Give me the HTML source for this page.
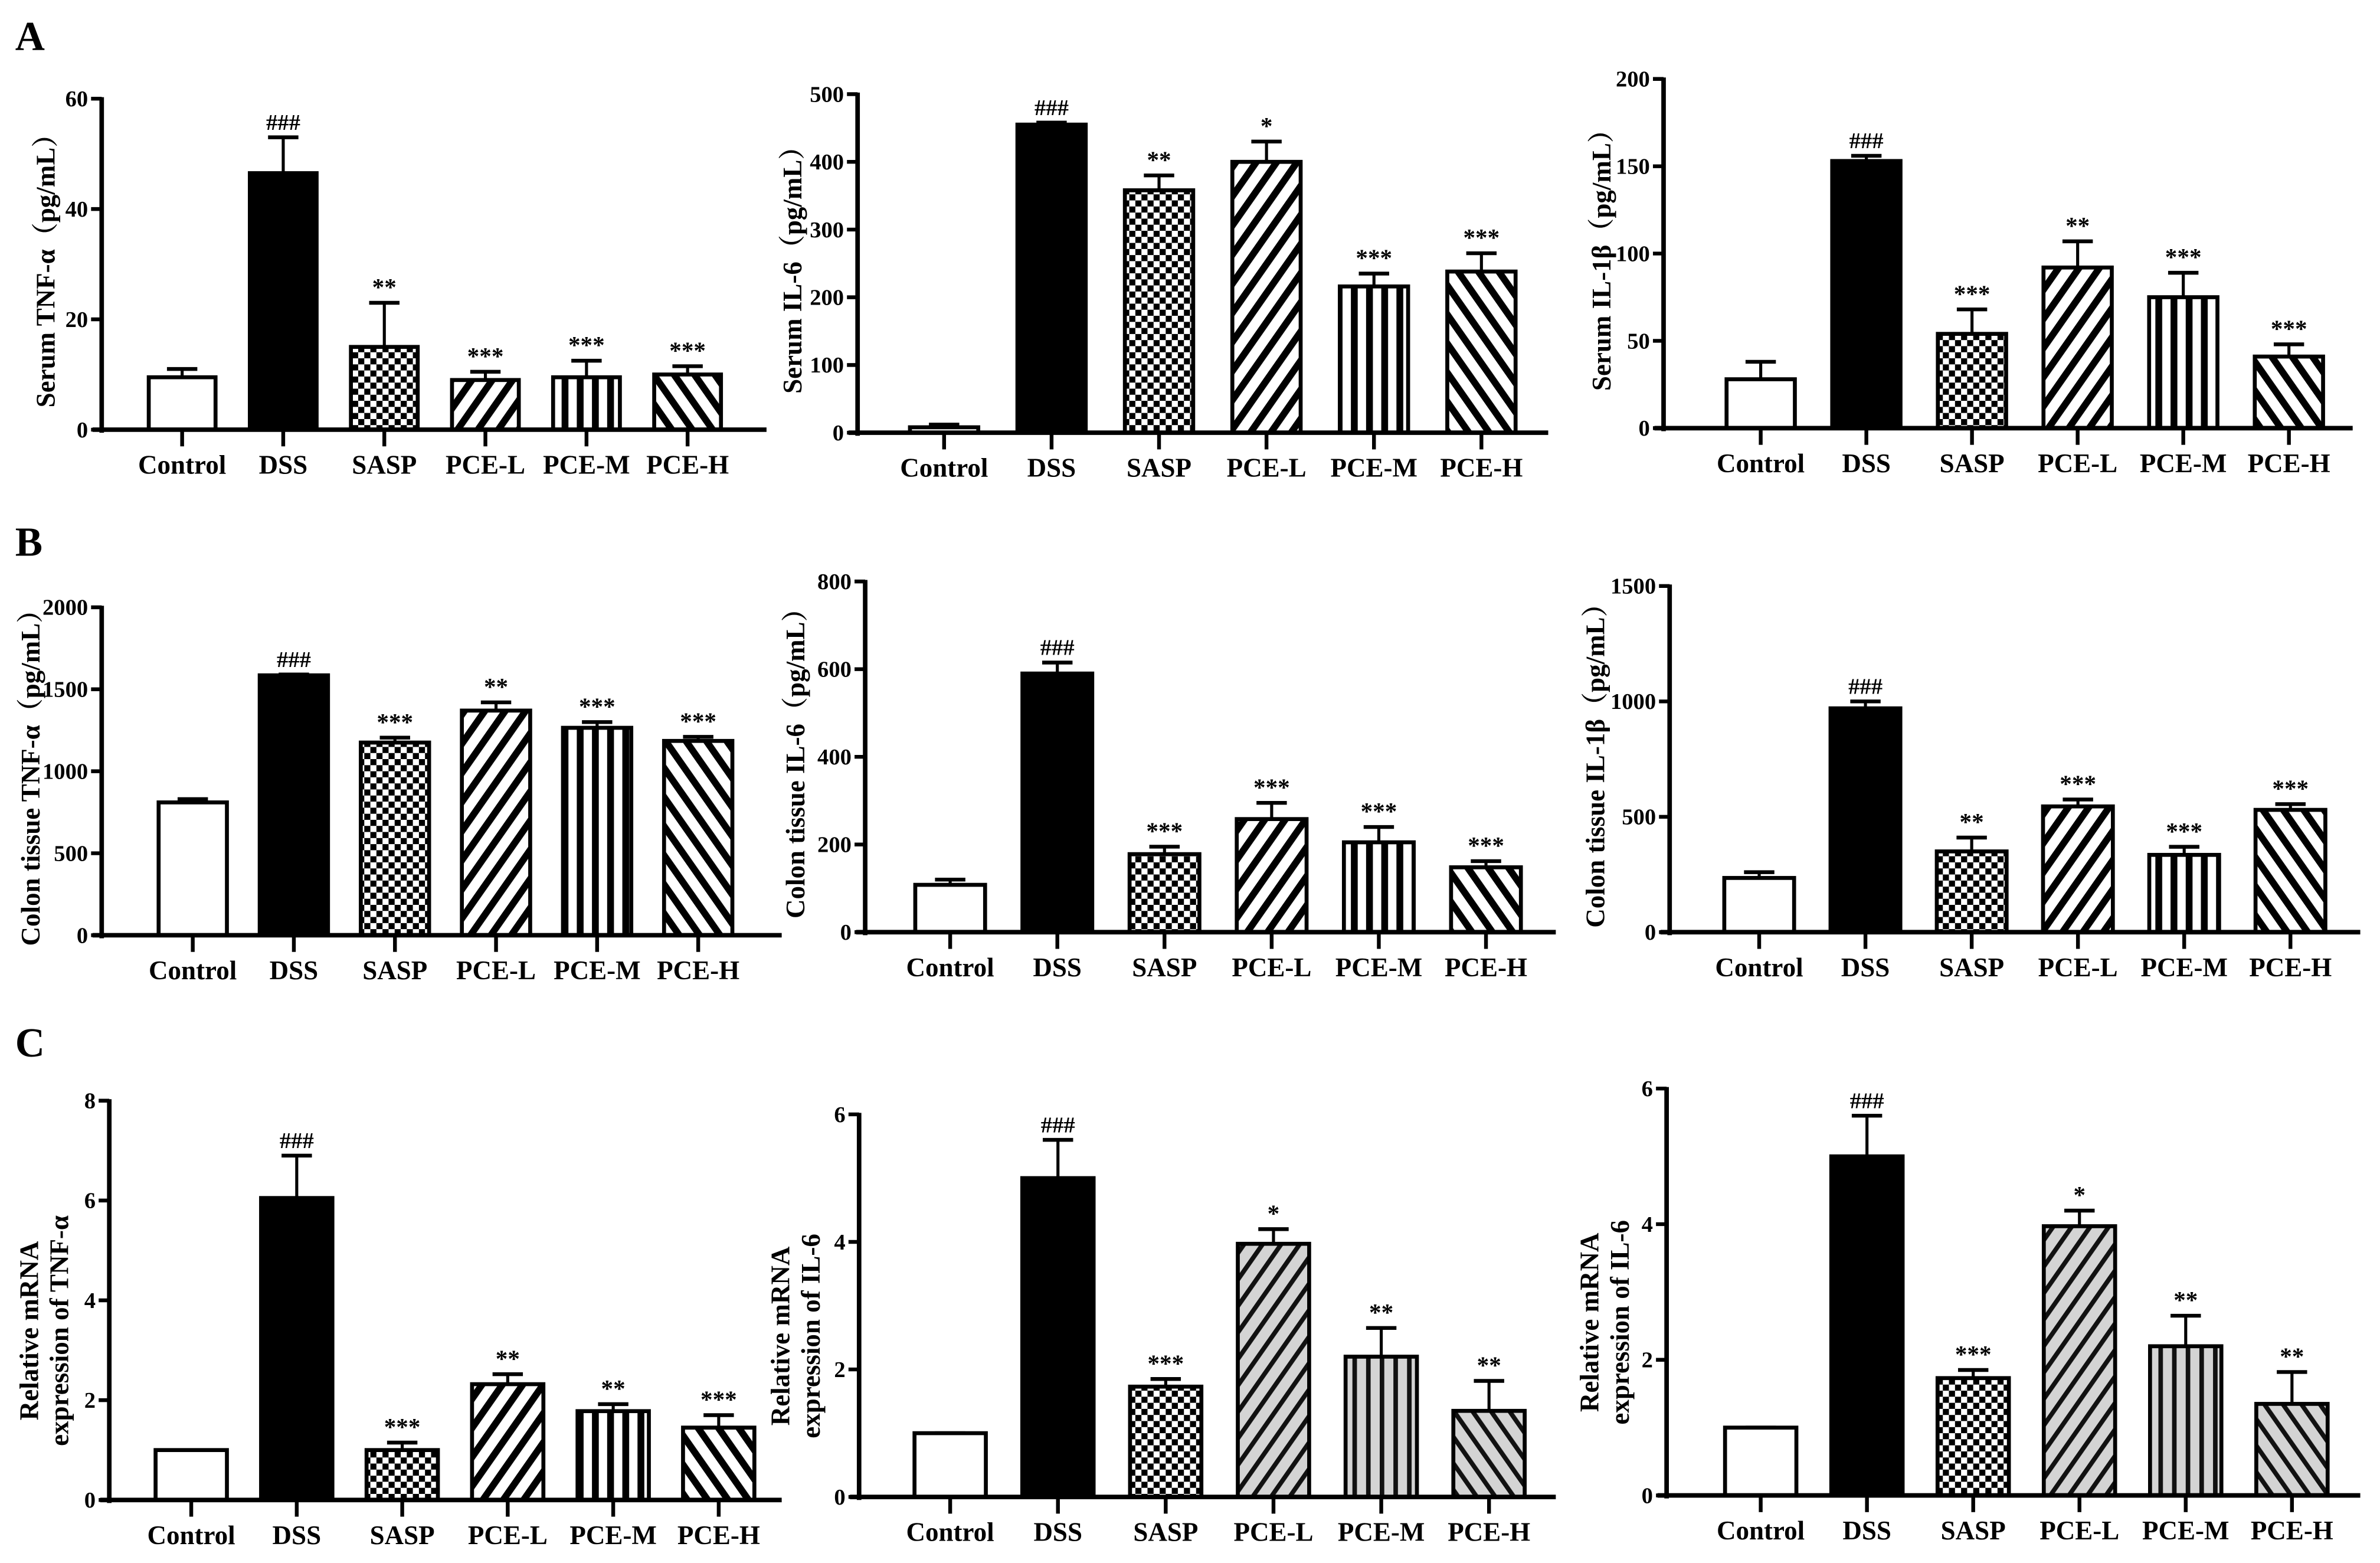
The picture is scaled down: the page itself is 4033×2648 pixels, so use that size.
<!DOCTYPE html>
<html><head><meta charset="utf-8"><style>
html,body{margin:0;padding:0;background:#fff;}
svg{display:block;}
text{font-family:"Liberation Serif","Noto Serif CJK SC",serif;font-weight:bold;fill:#000;}
</style></head><body>
<svg id="fig" width="4033" height="2648" viewBox="0 0 1568 1029.5" xmlns="http://www.w3.org/2000/svg">
<defs>
<pattern id="chk" width="8" height="8" patternUnits="userSpaceOnUse"><rect width="8" height="8" fill="#fff"/><rect width="4" height="4" fill="#000"/><rect x="4" y="4" width="4" height="4" fill="#000"/></pattern>
<pattern id="fw" width="11" height="11" patternUnits="userSpaceOnUse" patternTransform="rotate(35)"><rect width="11" height="11" fill="#fff"/><rect width="4.5" height="11" fill="#000"/></pattern>
<pattern id="bw" width="11" height="11" patternUnits="userSpaceOnUse" patternTransform="rotate(-35)"><rect width="11" height="11" fill="#fff"/><rect width="4.5" height="11" fill="#000"/></pattern>
<pattern id="vw" width="10" height="10" patternUnits="userSpaceOnUse"><rect width="10" height="10" fill="#fff"/><rect width="4.5" height="10" fill="#000"/></pattern>
<pattern id="fg" width="10" height="10" patternUnits="userSpaceOnUse" patternTransform="rotate(35)"><rect width="10" height="10" fill="#d4d4d4"/><rect width="3" height="10" fill="#111"/></pattern>
<pattern id="bg" width="10" height="10" patternUnits="userSpaceOnUse" patternTransform="rotate(-35)"><rect width="10" height="10" fill="#d4d4d4"/><rect width="3" height="10" fill="#111"/></pattern>
<pattern id="vg" width="9" height="9" patternUnits="userSpaceOnUse"><rect width="9" height="9" fill="#d4d4d4"/><rect width="3" height="9" fill="#111"/></pattern>
</defs>
<text x="10" y="33" font-size="27">A</text>
<text x="10" y="366" font-size="27">B</text>
<text x="10" y="696" font-size="27">C</text>
</svg>
<script>
const categories = ["Control","DSS","SASP","PCE-L","PCE-M","PCE-H"];
const a1Values = [9.5,46.5,15,9,9.5,10];
const a1Errors = [11,53,23,10.5,12.5,11.5];
const a1Sig = ["","###","**","***","***","***"];
const a1Ticks = [0,20,40,60];
const a2Values = [8,455,358,400,216,238];
const a2Errors = [12,458,380,430,235,265];
const a2Sig = ["","###","**","*","***","***"];
const a2Ticks = [0,100,200,300,400,500];
const a3Values = [28,153,54,92,75,41];
const a3Errors = [38,156,68,107,89,48];
const a3Sig = ["","###","***","**","***","***"];
const a3Ticks = [0,50,100,150,200];
const b1Values = [810,1585,1175,1370,1265,1185];
const b1Errors = [830,1590,1205,1420,1300,1210];
const b1Sig = ["","###","***","**","***","***"];
const b1Ticks = [0,500,1000,1500,2000];
const b2Values = [108,590,178,258,205,148];
const b2Errors = [120,615,195,295,240,162];
const b2Sig = ["","###","***","***","***","***"];
const b2Ticks = [0,200,400,600,800];
const b3Values = [235,970,350,545,335,530];
const b3Errors = [260,1000,410,575,370,555];
const b3Sig = ["","###","**","***","***","***"];
const b3Ticks = [0,500,1000,1500];
const c1Values = [1.0,6.05,1.0,2.32,1.78,1.45];
const c1Errors = [1.0,6.9,1.15,2.52,1.92,1.7];
const c1Sig = ["","###","***","**","**","***"];
const c1Ticks = [0,2,4,6,8];
const c2Values = [1.0,5.0,1.73,3.97,2.2,1.35];
const c2Errors = [1.0,5.6,1.85,4.2,2.65,1.82];
const c2Sig = ["","###","***","*","**","**"];
const c2Ticks = [0,2,4,6];
const c3Values = [1.0,5.0,1.73,3.97,2.2,1.35];
const c3Errors = [1.0,5.6,1.85,4.2,2.65,1.82];
const c3Sig = ["","###","***","*","**","**"];
const c3Ticks = [0,2,4,6];

const NS="http://www.w3.org/2000/svg";
const svg=document.getElementById('fig');
function mk(tag,attrs,parent){const e=document.createElementNS(NS,tag);for(const k in attrs)e.setAttribute(k,attrs[k]);(parent||svg).appendChild(e);return e;}

function panel(cfg){
  const g=mk('g',{});
  
  
  const ymax=cfg.ticks[cfg.ticks.length-1];
  const yS=v=>cfg.y0-(cfg.y0-cfg.yTop)*v/ymax;
  const xS=i=>cfg.x0+i*cfg.step;
  const fills=cfg.gray?["#fff","#000","url(#chk)","url(#fg)","url(#vg)","url(#bg)"]:["#fff","#000","url(#chk)","url(#fw)","url(#vw)","url(#bw)"];
  categories.forEach((c,i)=>{
    const v=cfg.values[i],e=cfg.errors[i],cx=xS(i),w=cfg.bw;
    const el=mk('line',{x1:cx,x2:cx,y1:yS(v),y2:yS(e),stroke:'#000','stroke-width':2},g);
    
    
    const cap=mk('line',{x1:cx-10,x2:cx+10,y1:yS(e),y2:yS(e),stroke:'#000','stroke-width':2.5},g);
    
    
    const r=mk('rect',{x:cx-w/2,y:yS(v),width:w,height:cfg.y0-yS(v),fill:fills[i],stroke:'#000','stroke-width':2.6},g);
    
    
    if(cfg.sig[i]){
      const t=mk('text',{x:cx,y:yS(e)-5,'font-size':cfg.sig[i][0]=='#'?15:16,'text-anchor':'middle','font-weight':'normal'},g);
      t.textContent=cfg.sig[i];
      
      
    }
    const tk=mk('line',{x1:cx,x2:cx,y1:cfg.y0,y2:cfg.y0+11,stroke:'#000','stroke-width':2.5},g);
    
    
    const lb=mk('text',{x:cx,y:cfg.y0+29,'font-size':17.5,'text-anchor':'middle'},g);
    lb.textContent=c;
    
    
  });
  const ya=mk('line',{x1:cfg.ax,x2:cfg.ax,y1:cfg.yTop-1,y2:cfg.y0+2,stroke:'#000','stroke-width':3},g);
  
  
  const xa=mk('line',{x1:cfg.ax-6,x2:cfg.xEnd,y1:cfg.y0,y2:cfg.y0,stroke:'#000','stroke-width':3},g);
  
  
  cfg.ticks.forEach(t=>{
    const l=mk('line',{x1:cfg.ax-7,x2:cfg.ax,y1:yS(t),y2:yS(t),stroke:'#000','stroke-width':2.5},g);
    
    
    const tx=mk('text',{x:cfg.ax-9,y:yS(t)+5,'font-size':15,'text-anchor':'end','font-family':cfg.sans?'"Liberation Sans",sans-serif':'"Liberation Serif",serif'},g);
    tx.textContent=t;
    
    
  });
  const mid=(cfg.y0+cfg.yTop)/2;
  cfg.title.forEach((s,k)=>{
    const tx=cfg.titleX+k*20;
    const ty=mid+(cfg.titleDy||0);
    const tt=mk('text',{x:tx,y:ty,'font-size':17.5,'text-anchor':'middle',transform:`rotate(-90 ${tx} ${ty})`},g);
    tt.textContent=s;
    
    
  });
}
panel({name:'chart-serum-tnf',ax:67,xEnd:505,y0:283,yTop:65,x0:120,step:66.6,bw:44,values:a1Values,errors:a1Errors,sig:a1Sig,ticks:a1Ticks,title:['Serum TNF-α（pg/mL）'],titleX:36});
panel({name:'chart-serum-il6',ax:565,xEnd:1020,y0:285,yTop:62,x0:622,step:70.8,bw:45,values:a2Values,errors:a2Errors,sig:a2Sig,ticks:a2Ticks,title:['Serum IL-6（pg/mL）'],titleX:528});
panel({name:'chart-serum-il1b',ax:1096,xEnd:1550,y0:282,yTop:52,x0:1160,step:69.6,bw:45,values:a3Values,errors:a3Errors,sig:a3Sig,ticks:a3Ticks,title:['Serum IL-1β（pg/mL）'],titleX:1061});
panel({name:'chart-colon-tnf',ax:67,xEnd:515,y0:616,yTop:400,x0:127,step:66.6,bw:45,values:b1Values,errors:b1Errors,sig:b1Sig,ticks:b1Ticks,title:['Colon tissue TNF-α（pg/mL）'],titleX:26});
panel({name:'chart-colon-il6',ax:570,xEnd:1025,y0:614,yTop:383,x0:626,step:70.6,bw:46,values:b2Values,errors:b2Errors,sig:b2Sig,ticks:b2Ticks,title:['Colon tissue IL-6（pg/mL）'],titleX:530});
panel({name:'chart-colon-il1b',ax:1100,xEnd:1555,y0:614,yTop:386,x0:1159,step:70,bw:46,values:b3Values,errors:b3Errors,sig:b3Sig,ticks:b3Ticks,title:['Colon tissue IL-1β（pg/mL）'],titleX:1057});
panel({name:'chart-mrna-tnf',ax:72,xEnd:515,y0:988,yTop:725,x0:126,step:69.5,bw:47,values:c1Values,errors:c1Errors,sig:c1Sig,ticks:c1Ticks,title:['Relative mRNA','expression of TNF-α'],titleX:25,titleDy:20,sans:true});
panel({name:'chart-mrna-il6',ax:566,xEnd:1025,y0:986,yTop:734,x0:626,step:71,bw:47,values:c2Values,errors:c2Errors,sig:c2Sig,ticks:c2Ticks,title:['Relative mRNA','expression of IL-6'],titleX:520,titleDy:20,sans:true,gray:true});
panel({name:'chart-mrna-il6-2',ax:1098,xEnd:1555,y0:985,yTop:717,x0:1160,step:70,bw:47,values:c3Values,errors:c3Errors,sig:c3Sig,ticks:c3Ticks,title:['Relative mRNA','expression of IL-6'],titleX:1053,titleDy:20,sans:true,gray:true});
</script>
</body></html>
